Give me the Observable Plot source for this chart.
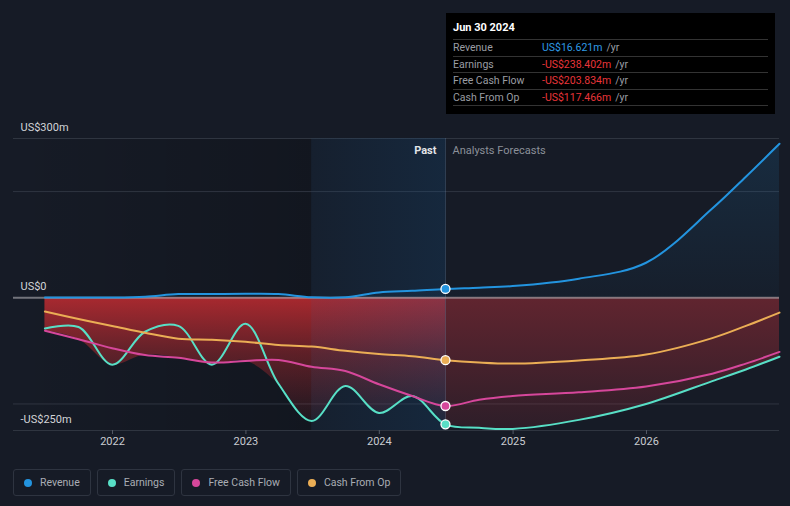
<!DOCTYPE html>
<html><head><meta charset="utf-8">
<script src="https://cdn.jsdelivr.net/npm/d3@7"></script>
<script src="https://cdn.jsdelivr.net/npm/@observablehq/plot@0.6"></script>
<style>
body{margin:0;background:#161b26;width:790px;height:506px;overflow:hidden;font-family:Roboto,"Noto Sans",sans-serif;position:relative}
#chart{position:absolute;left:0;top:0}
#tip{position:absolute;left:446px;top:13px;width:329px;height:101px;background:#000;box-sizing:border-box;padding:0 7px;font-size:10.5px}
#tip .title{height:26px;line-height:30px;color:#fff;font-weight:bold;font-size:11px;border-bottom:1px solid #333}
#tip .row{height:15.5px;line-height:15.5px;border-bottom:1px solid #333;display:flex}
#tip .lab{width:89px;color:#9a9da3}
#tip .unit{color:#9a9da3;margin-left:4px}
#legend{position:absolute;left:13px;top:469px;display:flex;gap:6px}
#legend .item{height:27px;border:1px solid #2e3440;border-radius:3px;box-sizing:border-box;display:flex;align-items:center;padding:0 10px 0 10px;color:#a9adb4;font-size:10.5px}
#legend .dot{width:8px;height:8px;border-radius:50%;margin-right:8px}
</style></head><body>
<div id="chart"></div>
<div id="tip"></div>
<div id="legend"></div>
<script>
// ---- data ----
const dates = ["2021-06-30","2021-09-30","2021-12-31","2022-03-31","2022-06-30","2022-09-30","2022-12-31",
  "2023-03-31","2023-06-30","2023-09-30","2023-12-31","2024-03-31","2024-06-30",
  "2024-09-30","2024-12-31","2025-06-30","2025-12-31","2026-06-30","2026-09-30","2026-12-31"];
const revenue  = [0.5,0.5,0.5,2,7,7,7.5,7,1,1,10,13,16.621, 19,22,36,66,168,228,290];
const earnings = [-58,-55,-126,-64,-53,-126,-49,-162,-232,-166,-217,-185,-238.402, -245,-247,-230,-200,-157,-135,-111];
const fcf      = [-62,-78,-95,-108,-113,-122,-119,-117,-130,-138,-163,-185,-203.834, -192,-185,-178,-167,-143,-124,-102];
const cfo      = [-26,-40,-53,-66,-77,-79,-83,-89,-92,-100,-106,-110,-117.466, -122,-124,-118,-107,-76,-53,-28];
const seriesNames  = ["Revenue","Earnings","Free Cash Flow","Cash From Op"];
const seriesColors = ["#2394df","#58dfc6","#d6479b","#ebae55"];
const yTickValues = [300, 0, -250];
const yTickLabels = ["US$300m","US$0","-US$250m"];
const gridValues = [300, 200, -200, -250];
const nowDate = "2024-06-30";
const highlightStart = "2023-06-30";
const xStart = "2021-04-05", xEnd = "2026-12-31";
const tipTitle = "Jun 30 2024";
const tipValues = ["US$16.621m","-US$238.402m","-US$203.834m","-US$117.466m"];
const tipColors = ["#2f9be6","#e8353a","#e8353a","#e8353a"];

// ---- build ----
const P = d => new Date(d);
const now = P(nowDate);
const rows = dates.map((d,i)=>({date:P(d), revenue:revenue[i], earnings:earnings[i], fcf:fcf[i], cfo:cfo[i],
  low: Math.min(0, earnings[i], fcf[i], cfo[i])}));
const past = rows.filter(r=>r.date<=now);
const fut = rows.filter(r=>r.date>=now);
const keys = ["revenue","earnings","fcf","cfo"];
const long = [];
keys.forEach((k,j)=>rows.forEach(r=>long.push({date:r.date, v:r[k], s:seriesNames[j]})));
const nowPts = keys.map((k,j)=>({date:now, v:rows.find(r=>+r.date===+now)[k], s:seriesNames[j]}));

const defs = () => {
  const g = document.createElementNS("http://www.w3.org/2000/svg","defs");
  g.innerHTML = `
  <linearGradient id="redPast" x1="0" y1="0" x2="0" y2="1">
    <stop offset="0" stop-color="rgb(205,45,50)" stop-opacity="0.8"/>
    <stop offset="0.45" stop-color="rgb(205,45,50)" stop-opacity="0.4"/>
    <stop offset="1" stop-color="rgb(205,45,50)" stop-opacity="0.05"/>
  </linearGradient>
  <linearGradient id="redFut" x1="0" y1="0" x2="0" y2="1">
    <stop offset="0" stop-color="rgb(200,50,60)" stop-opacity="0.42"/>
    <stop offset="1" stop-color="rgb(200,50,60)" stop-opacity="0.13"/>
  </linearGradient>
  <linearGradient id="blueFill" x1="0" y1="0" x2="0" y2="1">
    <stop offset="0" stop-color="rgb(35,148,223)" stop-opacity="0.14"/>
    <stop offset="1" stop-color="rgb(35,148,223)" stop-opacity="0.03"/>
  </linearGradient>
  <linearGradient id="pastBg" x1="0" y1="0" x2="1" y2="0">
    <stop offset="0" stop-color="#000" stop-opacity="0"/>
    <stop offset="1" stop-color="#000" stop-opacity="0.18"/>
  </linearGradient>
  <linearGradient id="hiBg" x1="0" y1="0" x2="1" y2="0">
    <stop offset="0" stop-color="rgb(20,95,160)" stop-opacity="0.07"/>
    <stop offset="1" stop-color="rgb(20,95,160)" stop-opacity="0.19"/>
  </linearGradient>`;
  return g;
};

const chart = Plot.plot({
  width: 790, height: 460,
  marginLeft: 13, marginRight: 11, marginTop: 138, marginBottom: 30,
  style: {background: "transparent", fontFamily: "Roboto, 'Noto Sans', sans-serif"},
  x: {type: "utc", domain: [P(xStart), P(xEnd)]},
  y: {domain: [-250, 300], axis: null},
  color: {domain: seriesNames, range: seriesColors},
  marks: [
    defs,
    Plot.rect([{x1:P(xStart), x2:P(highlightStart)}], {x1:"x1", x2:"x2", y1:-250, y2:300, fill:"url(#pastBg)"}),
    Plot.ruleY(gridValues, {stroke:"#2f3540", strokeWidth:1}),
    Plot.areaY(rows, {x:"date", y1:0, y2:"revenue", curve:"catmull-rom", fill:"url(#blueFill)"}),
    Plot.areaY(past, {x:"date", y1:0, y2:"low", curve:"catmull-rom", fill:"url(#redPast)"}),
    Plot.areaY(fut, {x:"date", y1:0, y2:"low", curve:"catmull-rom", fill:"url(#redFut)"}),
    Plot.rect([{x1:P(highlightStart), x2:now}], {x1:"x1", x2:"x2", y1:-250, y2:300, fill:"url(#hiBg)"}),
    Plot.ruleX([now], {y1:-250, y2:300, stroke:"rgb(110,150,190)", strokeOpacity:0.3, strokeWidth:1}),
    Plot.ruleY([0], {stroke:"#b0b0b4", strokeOpacity:0.6, strokeWidth:2}),
    Plot.line(long, {x:"date", y:"v", z:"s", stroke:"s", curve:"catmull-rom", strokeWidth:2}),
    Plot.dot(nowPts, {x:"date", y:"v", fill:"s", stroke:"#fff", strokeWidth:1.3, r:4.5}),
    Plot.text(yTickValues.map((v,i)=>({v, t:yTickLabels[i]})), {y:"v", text:"t", frameAnchor:"left", textAnchor:"start", dx:7, dy:-11, fill:"#d2d4d8", fontSize:11}),
    Plot.text(["Past"], {x:now, y:300, text:d=>d, textAnchor:"end", dx:-9, dy:12, fill:"#e2e4e8", fontWeight:"bold", fontSize:11}),
    Plot.text(["Analysts Forecasts"], {x:now, y:300, text:d=>d, textAnchor:"start", dx:7, dy:12, fill:"#8b9099", fontSize:11}),
    Plot.axisX({ticks: d3.utcYear.every(1), tickFormat:"%Y", tickSize:4, tickPadding:3, stroke:"#555b66", fill:"#c9ccd1", fontSize:11, label:null})
  ]
});
document.getElementById("chart").appendChild(chart);

// tooltip
const tip = document.getElementById("tip");
let html = `<div class="title">${tipTitle}</div>`;
seriesNames.forEach((n,i)=>{
  html += `<div class="row"><span class="lab">${n}</span><span style="color:${tipColors[i]}">${tipValues[i]}</span><span class="unit">/yr</span></div>`;
});
tip.innerHTML = html;

// legend
const lg = document.getElementById("legend");
seriesNames.forEach((n,i)=>{
  const it = document.createElement("div"); it.className="item";
  it.innerHTML = `<span class="dot" style="background:${seriesColors[i]}"></span>${n}`;
  lg.appendChild(it);
});
</script>
</body></html>
